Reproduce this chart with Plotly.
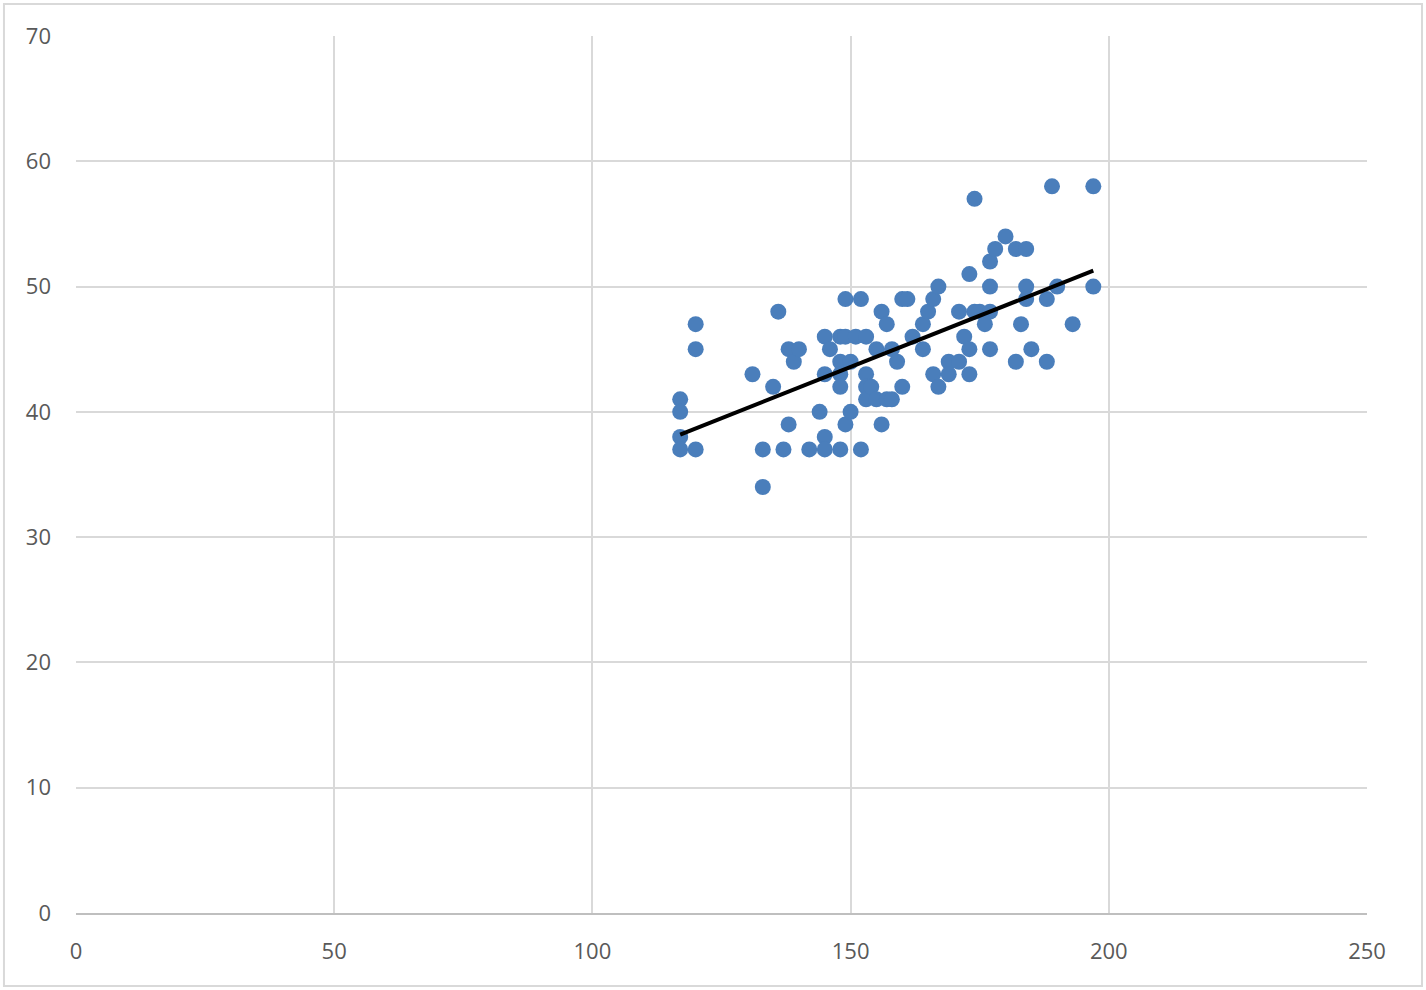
import numpy as np
import plotly.graph_objects as go

# scatter data
x_vals = [117, 117, 117, 117, 120, 120, 120, 131, 133, 133, 135, 136, 137, 138, 138,
          139, 140, 142, 144, 145, 145, 145, 145, 146, 148, 148, 148, 148, 148, 149,
          149, 149, 150, 150, 151, 152, 152, 153, 153, 153, 153, 154, 155, 155, 156,
          156, 157, 157, 158, 158, 159, 160, 160, 161, 162, 164, 164, 165, 166, 166,
          167, 167, 169, 169, 171, 171, 172, 173, 173, 173, 174, 174, 175, 176, 177,
          177, 177, 177, 178, 180, 182, 182, 183, 184, 184, 184, 185, 188, 188, 189,
          190, 193, 197, 197]
y_vals = [41, 40, 38, 37, 47, 45, 37, 43, 37, 34, 42, 48, 37, 39, 45,
          44, 45, 37, 40, 46, 43, 38, 37, 45, 46, 44, 43, 42, 37, 49,
          46, 39, 44, 40, 46, 49, 37, 46, 43, 42, 41, 42, 45, 41, 48,
          39, 47, 41, 45, 41, 44, 49, 42, 49, 46, 47, 45, 48, 49, 43,
          50, 42, 44, 43, 48, 44, 46, 51, 45, 43, 57, 48, 48, 47, 52,
          50, 48, 45, 53, 54, 53, 44, 47, 53, 50, 49, 45, 49, 44, 58,
          50, 47, 58, 50]

x_ticks = [0, 50, 100, 150, 200, 250]
y_ticks = [0, 10, 20, 30, 40, 50, 60, 70]

# linear trendline (least squares)
slope, intercept = np.polyfit(x_vals, y_vals, 1)
tx = np.array([min(x_vals), max(x_vals)])
ty = slope * tx + intercept

font_family = "Open Sans, Noto Sans, sans-serif"

fig = go.Figure()
fig.add_trace(go.Scatter(x=x_vals, y=y_vals, mode='markers',
                         marker=dict(color='#4a7ebb', size=16, line=dict(width=0)),
                         showlegend=False))
fig.add_trace(go.Scatter(x=tx, y=ty, mode='lines',
                         line=dict(color='black', width=4),
                         showlegend=False))

fig.update_layout(
    width=1426, height=990,
    margin=dict(l=76, r=59, t=36, b=77),
    paper_bgcolor='white', plot_bgcolor='white',
    font=dict(family=font_family, size=22, color='#595959'),
    xaxis=dict(range=[0, 250], tickvals=x_ticks, showgrid=True,
               gridcolor='#d9d9d9', gridwidth=2, zeroline=False,
               showline=True, linecolor='#bfbfbf', linewidth=2,
               ticks='', ticklabelstandoff=18),
    yaxis=dict(range=[0, 70], tickvals=y_ticks, showgrid=True,
               gridcolor='#d9d9d9', gridwidth=2, zeroline=False,
               showline=False, ticks='', ticklabelstandoff=24),
    shapes=[dict(type='rect', xref='paper', yref='paper',
                 x0=-0.0558, x1=1.0426, y0=-0.0832, y1=1.0365,
                 line=dict(color='#d9d9d9', width=2))],
)
fig.write_html("out.html", config={'displayModeBar': False},
               post_script="document.body.style.margin='0';")
